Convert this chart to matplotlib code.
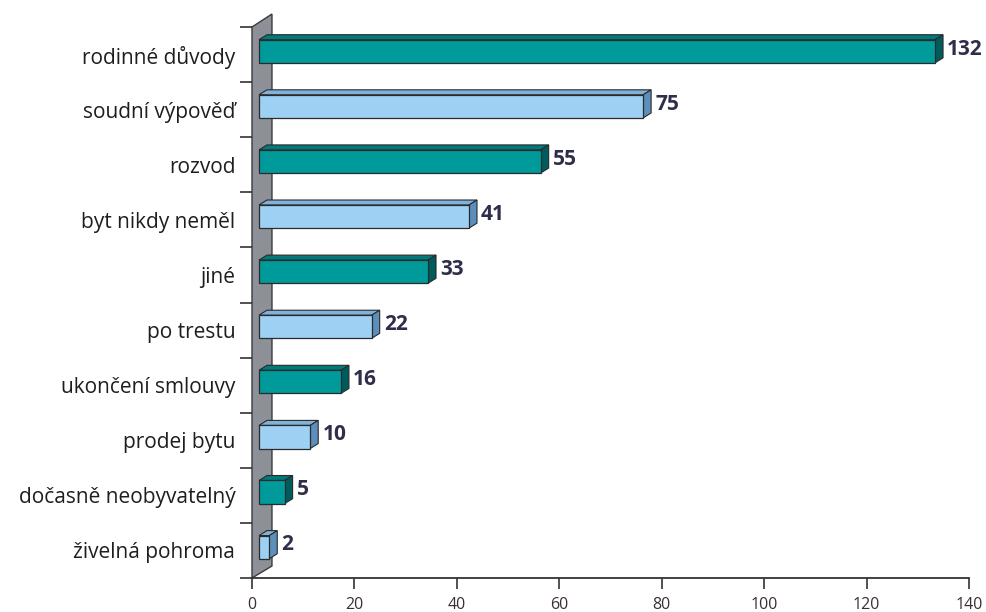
import matplotlib.pyplot as plt
from matplotlib.patches import Polygon

# data, top to bottom
categories = ["rodinné důvody", "soudní výpověď", "rozvod", "byt nikdy neměl", "jiné",
              "po trestu", "ukončení smlouvy", "prodej bytu", "dočasně neobyvatelný",
              "živelná pohroma"]
values = [132, 75, 55, 41, 33, 22, 16, 10, 5, 2]
xticks = [0, 20, 40, 60, 80, 100, 120, 140]

teal = ("#009a9a", "#007a7a", "#005c5c")       # front, top, side
light = ("#9dd0f2", "#7fb3dc", "#5d8fbc")

plt.rcParams['font.family'] = ['Open Sans', 'DejaVu Sans']

fig = plt.figure(figsize=(9.87, 6.12), dpi=100)
ax = fig.add_axes([252 / 987, 34 / 612, 717 / 987, 551 / 612])
ax.set_xlim(0, 140)
ax.set_ylim(-0.5, 9.5)

n = len(values)
# 3d offsets in data units (1 unit x ~ 5.12 px, 1 unit y ~ 55.1 px)
x0 = 1.37
dx, dy = 1.56, 0.09
h = 0.42
lift = 0.06

# grey back wall
wall = Polygon([(0, -0.5), (0, 9.5), (3.9, 9.736), (3.9, -0.282)], closed=True,
               facecolor="#8d9197", edgecolor="#3a3a3a", lw=1.0, clip_on=False, zorder=1)
ax.add_patch(wall)

for i, (cat, v) in enumerate(zip(categories, values)):
    y = n - 1 - i + lift
    front, top, side = teal if i % 2 == 0 else light
    yb, yt = y - h / 2, y + h / 2
    xs, xe = x0, x0 + v
    ax.add_patch(Polygon([(xs, yt), (xs + dx, yt + dy), (xe + dx, yt + dy), (xe, yt)],
                         facecolor=top, edgecolor="#2a2a2a", lw=0.8, zorder=3, clip_on=False))
    ax.add_patch(Polygon([(xe, yb), (xe + dx, yb + dy), (xe + dx, yt + dy), (xe, yt)],
                         facecolor=side, edgecolor="#2a2a2a", lw=0.8, zorder=3, clip_on=False))
    ax.barh(y, v, left=xs, height=h, color=front, edgecolor="#2a2a2a", lw=0.9, zorder=4)
    ax.text(xe + dx + 0.8, y + 0.04, str(v), ha="left", va="center", fontsize=15,
            fontweight="bold", color="#2e2e4a", zorder=5)

# axes
ax.set_yticks([y - 0.5 for y in range(n + 1)])
ax.set_yticklabels([])
ax.set_yticks(range(n), minor=True)
ax.set_yticklabels(categories[::-1], minor=True, fontsize=15, color="#1e1e1e")
ax.tick_params(axis="y", which="minor", length=0, pad=12)
ax.tick_params(axis="y", which="major", length=9, width=1.2, color="#333333")
ax.set_xticks(xticks)
ax.tick_params(axis="x", length=8, width=1.2, color="#333333", pad=6,
               labelsize=11.5, labelcolor="#3a3030")

for s in ["top", "right"]:
    ax.spines[s].set_visible(False)
ax.spines["left"].set_visible(False)
ax.spines["bottom"].set_linewidth(1.3)
ax.spines["bottom"].set_color("#333333")

fig.savefig("out.png", dpi=100)
